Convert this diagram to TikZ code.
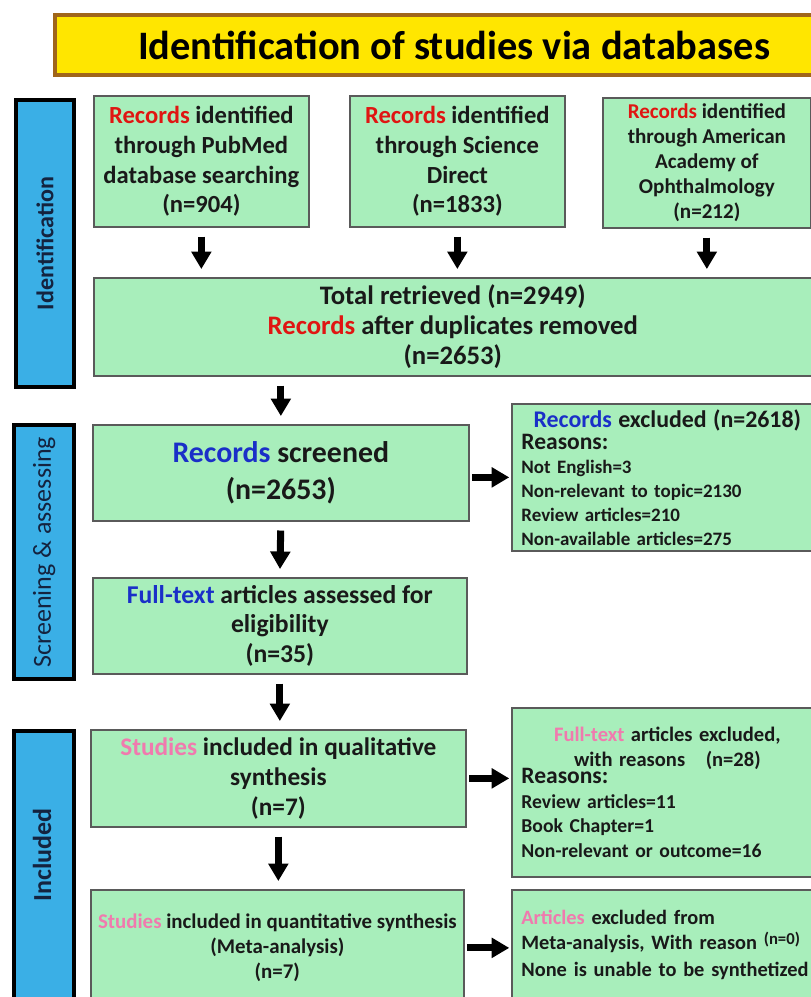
\documentclass[tikz,border=0pt]{standalone}
\usepackage{fontspec}
\setmainfont{Carlito}
\usetikzlibrary{arrows.meta, positioning}
\usepackage{xcolor}
\definecolor{mint}{HTML}{A8EEBB}
\definecolor{mintedge}{HTML}{5A5A5A}
\definecolor{sky}{HTML}{3AAFE6}
\definecolor{sun}{HTML}{FFE600}
\definecolor{rust}{HTML}{A0651A}
\definecolor{recred}{HTML}{E01512}
\definecolor{recblue}{HTML}{1A2FC8}
\definecolor{rose}{HTML}{F07AAE}
\definecolor{ink}{HTML}{14233F}

\begin{document}
\begin{tikzpicture}[
    x=0.02cm, y=-0.02cm,
    box/.style={rectangle, draw=mintedge, fill=mint, line width=1pt, anchor=north west,
                inner sep=0pt, align=center, text=black!90},
    headbox/.style={rectangle, draw=rust, fill=sun, line width=2.4pt, inner sep=0pt, anchor=north west},
    stagebar/.style={rectangle, draw=black, fill=sky, line width=2.4pt, inner sep=0pt, anchor=north west},
    stagetext/.style={rotate=90, text=ink, inner sep=0pt},
    notebox/.style={box, align=left, text width=5.84cm},
    arr/.style={-{Triangle[length=10pt, width=11pt]}, line width=4pt,
                shorten <=5pt, shorten >=4.5pt}
]
\useasboundingbox (0,0) rectangle (811,997);
\fill[white] (0,0) rectangle (811,997);

% header
\node[headbox, minimum width=15.96cm, minimum height=1.2cm, font=\fontsize{23}{26}\selectfont\bfseries] (title)
    at (53,13) {Identification of studies via databases};

% stage bars
\node[stagebar, minimum width=1.16cm, minimum height=5.74cm] (idbar) at (14,98) {};
\node[stagebar, minimum width=1.2cm, minimum height=5.08cm] (scrbar) at (12,423) {};
\node[stagebar, minimum width=1.2cm, minimum height=5.62cm] (incbar) at (12,729) {};
\node[stagetext, font=\fontsize{13.7}{14}\selectfont\bfseries] (idtext) at (idbar.center) {Identification};
\node[stagetext, font=\fontsize{14.8}{15}\selectfont] (scrtext) at (scrbar.center) {Screening \& assessing};
\node[stagetext, font=\fontsize{14.8}{15}\selectfont\bfseries] (inctext) at (42,855) {Included};

% identification
\node[box, minimum width=4.3cm, minimum height=2.62cm, font=\fontsize{14}{17}\selectfont\bfseries] (pubmed)
    at (93,95) {\textcolor{recred}{Records} identified\\through PubMed\\database searching\\(n=904)};
\node[box, minimum width=4.3cm, minimum height=2.62cm, font=\fontsize{14}{17}\selectfont\bfseries] (scidir)
    at (349,95) {\textcolor{recred}{Records} identified\\through Science\\Direct\\(n=1833)};
\node[box, minimum width=4.16cm, minimum height=2.6cm, font=\fontsize{12}{14.2}\selectfont\bfseries] (aao)
    at (602,97) {\textcolor{recred}{Records} identified\\through American\\Academy of\\Ophthalmology\\(n=212)};
\node[box, minimum width=14.36cm, minimum height=1.96cm, font=\fontsize{15.2}{17}\selectfont\bfseries] (total)
    at (93,277) {Total retrieved (n=2949)\\\textcolor{recred}{Records} after duplicates removed\\(n=2653)};

% screening
\node[box, minimum width=7.52cm, minimum height=1.92cm, font=\fontsize{17}{21}\selectfont\bfseries] (screened)
    at (92,424) {\textcolor{recblue}{Records} screened\\(n=2653)};
\node[notebox, minimum width=6.22cm, minimum height=2.94cm, font=\fontsize{10.8}{13.6}\selectfont\bfseries] (recexcl)
    at (511,403)
    {\makebox[\linewidth]{\fontsize{13.6}{13.6}\selectfont\textcolor{recblue}{Records} excluded (n=2618)}\\[-1pt]
     {\fontsize{13.4}{13}\selectfont Reasons:}\\
     Not English=3\\Non-relevant to topic=2130\\Review articles=210\\Non-available articles=275};
\node[box, minimum width=7.48cm, minimum height=1.92cm, font=\fontsize{14.6}{17}\selectfont\bfseries] (fulltext)
    at (92,577) {\textcolor{recblue}{Full-text} articles assessed for\\eligibility\\(n=35)};

% included
\node[box, minimum width=7.5cm, minimum height=1.94cm, font=\fontsize{14.4}{17}\selectfont\bfseries] (qualit)
    at (90,729) {\textcolor{rose}{Studies} included in qualitative\\synthesis\\(n=7)};
\node[notebox, minimum width=6.22cm, minimum height=3.38cm, font=\fontsize{11.2}{14}\selectfont\bfseries] (ftexcl)
    at (511,707)
    {\makebox[\linewidth]{\fontsize{11.7}{14}\selectfont\textcolor{rose}{Full-text} articles excluded,}\\
     \makebox[\linewidth]{\fontsize{11.7}{14}\selectfont with reasons\quad(n=28)}\\[-4pt]
     {\fontsize{13.4}{13}\selectfont Reasons:}\\
     Review articles=11\\Book Chapter=1\\Non-relevant or outcome=16};
\node[box, minimum width=7.46cm, minimum height=2.32cm, font=\fontsize{11.9}{14.2}\selectfont\bfseries] (quantit)
    at (90,889) {\textcolor{rose}{Studies} included in quantitative synthesis\\(Meta-analysis)\\(n=7)};
\node[notebox, minimum width=6.22cm, minimum height=2.2cm, font=\fontsize{11.6}{14.5}\selectfont\bfseries] (metaexcl)
    at (511,889)
    {\textcolor{rose}{Articles} excluded from\\
     Meta-analysis, With reason \raisebox{3pt}{\fontsize{9.5}{9.5}\selectfont(n=0)}\\[1pt]
     None is unable to be synthetized};

% arrows
\draw[arr] (pubmed.south) -- (pubmed.south |- total.north);
\draw[arr] (scidir.south) -- (scidir.south |- total.north);
\draw[arr] (aao.south) -- (aao.south |- total.north);
\draw[arr] (total.south -| screened.north) -- (screened.north);
\draw[arr] (screened.south) -- (fulltext.south |- fulltext.north);
\draw[arr] (fulltext.south) -- (fulltext.south |- qualit.north);
\draw[arr] (qualit.south) -- (qualit.south |- quantit.north);
\draw[arr, shorten <=1.5pt, shorten >=1pt] (screened.east |- recexcl.west) -- (recexcl.west);
\draw[arr, shorten <=1.5pt, shorten >=1pt] (qualit.east) -- (qualit.east -| ftexcl.west);
\draw[arr, shorten <=1.5pt, shorten >=1pt] (quantit.east) -- (quantit.east -| metaexcl.west);
\end{tikzpicture}
\end{document}
